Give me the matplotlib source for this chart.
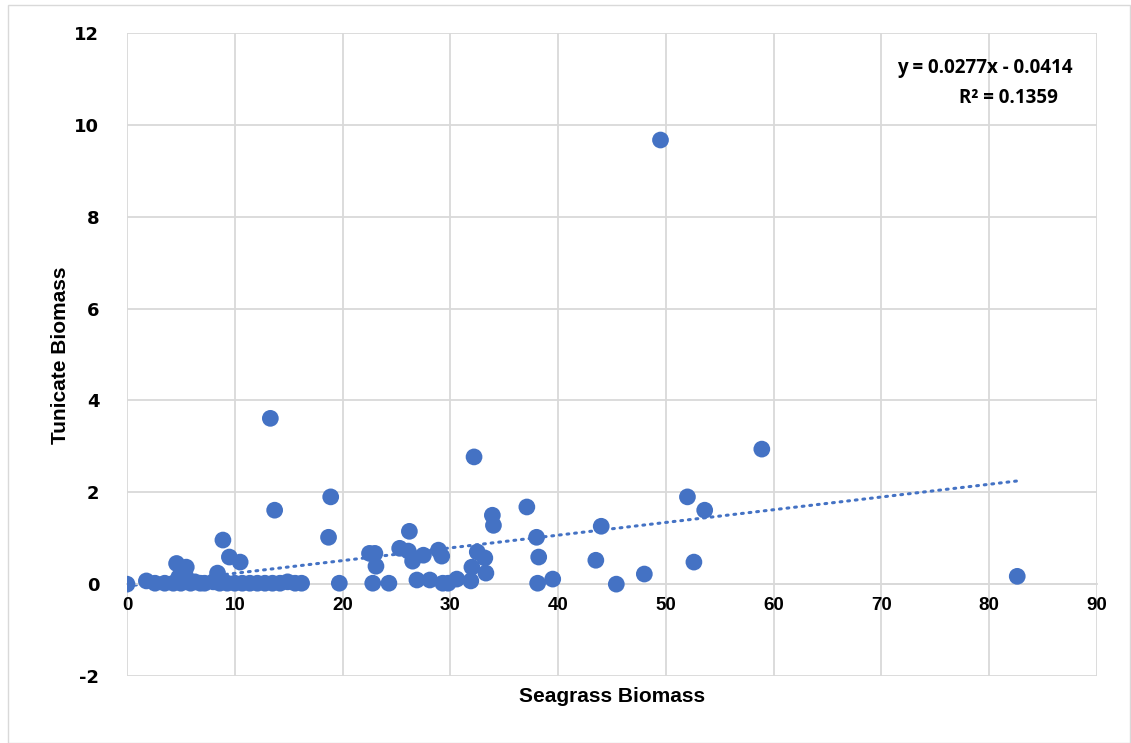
import matplotlib
matplotlib.use("Agg")
import matplotlib.pyplot as plt
import numpy as np
from matplotlib.patches import Rectangle

plt.rcParams["axes.unicode_minus"] = False

# seagrass biomass (x) vs tunicate biomass (y)
seagrass = [
    0.0, 1.8, 2.6, 3.5, 4.3, 4.6, 5.5, 4.8, 5.0, 5.4, 5.9, 6.3, 6.8, 7.2,
    8.0, 8.4, 8.9, 9.5, 10.5,
    8.6, 9.3, 10.0, 10.7, 11.4, 12.1, 12.8, 13.5, 14.2, 14.9, 15.6, 16.2,
    13.3, 13.7, 18.9, 18.7, 19.7,
    22.5, 23.0, 23.1, 22.8, 24.3, 25.3, 26.2, 26.1, 26.5, 27.5, 26.9, 28.1,
    28.9, 29.2, 29.3, 29.8, 30.6, 32.0, 31.9, 32.2, 32.5, 33.2, 33.3,
    33.9, 34.0, 37.1, 38.0, 38.2, 38.1, 39.5,
    43.5, 44.0, 45.4, 48.0, 49.5, 52.0, 52.6, 53.6, 58.9, 82.6,
]
tunicate = [
    0.0, 0.07, 0.02, 0.02, 0.02, 0.45, 0.37, 0.15, 0.02, 0.2, 0.02, 0.05, 0.02, 0.02,
    0.05, 0.24, 0.96, 0.59, 0.48,
    0.02, 0.02, 0.02, 0.02, 0.02, 0.02, 0.02, 0.02, 0.02, 0.05, 0.02, 0.02,
    3.61, 1.61, 1.90, 1.02, 0.02,
    0.67, 0.67, 0.39, 0.02, 0.02, 0.78, 1.15, 0.72, 0.50, 0.63, 0.09, 0.09,
    0.74, 0.61, 0.02, 0.02, 0.11, 0.37, 0.07, 2.77, 0.70, 0.57, 0.24,
    1.50, 1.28, 1.68, 1.02, 0.59, 0.02, 0.11,
    0.52, 1.26, 0.0, 0.22, 9.67, 1.90, 0.48, 1.61, 2.94, 0.17,
]
slope, intercept = 0.0277, -0.0414
equation = "y = 0.0277x - 0.0414"
r_squared = "R² = 0.1359"
x_ticks = list(range(0, 91, 10))
y_ticks = list(range(-2, 13, 2))

blue = "#4472C4"
grid = "#d9d9d9"

fig = plt.figure(figsize=(11.31, 7.43), dpi=100)
ax = fig.add_axes([127 / 1131, 1 - 676 / 743, 970 / 1131, 643 / 743])

# outer chart border
fig.patches.append(Rectangle((8 / 1131, 0), 1 - 9 / 1131, 1 - 5 / 743,
                             transform=fig.transFigure, fill=False,
                             edgecolor=grid, linewidth=1.0))

ax.set_xlim(0, 90)
ax.set_ylim(-2, 12)
ax.set_xticks(x_ticks)
ax.set_yticks(y_ticks)
ax.grid(True, color=grid, linewidth=1.3)
ax.set_axisbelow(True)
for side in ["top", "right", "left"]:
    ax.spines[side].set_visible(False)
ax.spines["bottom"].set_position(("data", 0))
ax.spines["bottom"].set_color(grid)
ax.spines["bottom"].set_linewidth(1.3)
ax.tick_params(length=0)
ax.tick_params(axis="x", pad=9)
ax.tick_params(axis="y", pad=20)

for label in ax.get_xticklabels():
    label.set_fontfamily(["Liberation Sans Narrow", "Liberation Sans"])
    label.set_fontweight("bold")
    label.set_fontsize(13.5)
for label in ax.get_yticklabels():
    label.set_fontfamily("DejaVu Sans")
    label.set_fontweight("bold")
    label.set_fontsize(13)

ax.scatter(seagrass, tunicate, s=145, color=blue, edgecolors="none", zorder=3)

xs = np.array([min(seagrass), max(seagrass)])
ax.plot(xs, slope * xs + intercept, color=blue, linewidth=2.2,
        linestyle=(0, (0.6, 1.9)), dash_capstyle="round", zorder=2)

fig.text(1073 / 1131, 1 - 68 / 743, equation, ha="right", va="center",
         fontsize=13.5, fontweight="bold", family="Open Sans")
fig.text(1058 / 1131, 1 - 98 / 743, r_squared, ha="right", va="center",
         fontsize=13.5, fontweight="bold", family="Open Sans")

fig.text(612 / 1131, 1 - 697 / 743, "Seagrass Biomass", ha="center", va="center",
         fontsize=15, fontweight="bold",
         family=["Liberation Sans Narrow", "Liberation Sans"])
fig.text(60 / 1131, 1 - 355 / 743, "Tunicate Biomass", ha="center", va="center",
         rotation=90, fontsize=15, fontweight="bold",
         family=["Liberation Sans Narrow", "Liberation Sans"])

fig.savefig("out.png", dpi=100, facecolor="white")
